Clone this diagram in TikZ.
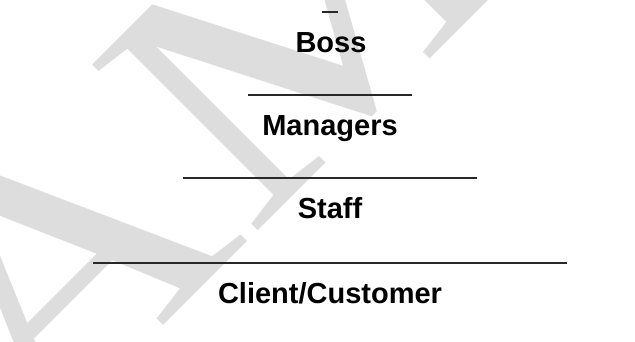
\documentclass[tikz,border=0pt]{standalone}
\usepackage{fontspec}
\setmainfont{Liberation Sans}
\newfontfamily\markfont{Liberation Serif}
\definecolor{markgray}{RGB}{221,221,221}
\definecolor{rulegray}{RGB}{40,40,40}
\begin{document}
\begin{tikzpicture}[x=1pt, y=-1pt,
    every node/.style={inner sep=0pt, text=black},
    level/.style={anchor=base, font=\fontsize{29}{34}\selectfont\bfseries},
    rule/.style={draw=rulegray, line width=1.3pt}]

    % Page frame
    \useasboundingbox (0,0) rectangle (635,341);
    \clip (0,0) rectangle (635,341);

    % Watermark letters
    \node[anchor=base west, rotate=45, text=markgray,
          font=\fontsize{358}{358}\selectfont\markfont] (mark) at (30.5,458.5) {\scalebox{1.2}[1]{AM}};

    % Rules above each level
    \foreach \y/\w in {12/8, 95/82, 178/147, 263/237}
        \draw[rule] (330-\w,\y) -- (330+\w,\y);

    % Level names
    \node[level] (boss)     at (331,52)  {Boss};
    \node[level] (managers) at (330,135) {Managers};
    \node[level] (staff)    at (330,218) {Staff};
    \node[level] (client)   at (330,303) {Client/Customer};

\end{tikzpicture}
\end{document}
